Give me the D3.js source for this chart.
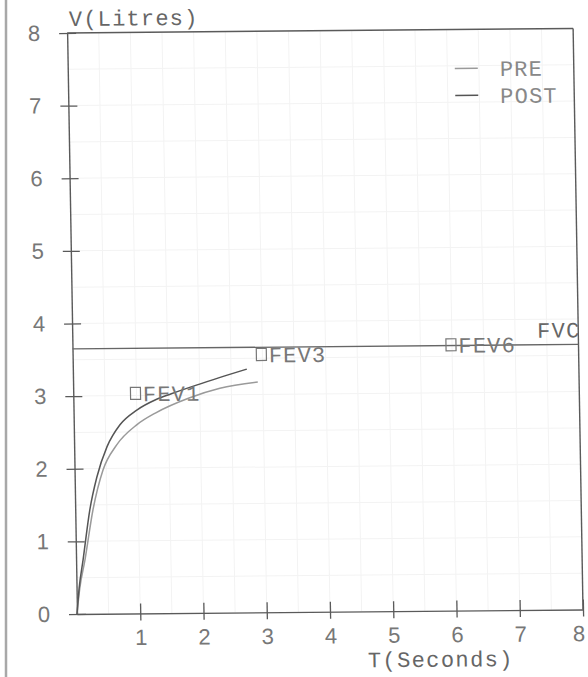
<!DOCTYPE html>
<html>
<head>
<meta charset="utf-8">
<script src="https://cdn.jsdelivr.net/npm/d3@7"></script>
<style>
  html, body { margin: 0; padding: 0; background: #fff; }
  svg { display: block; }
</style>
</head>
<body>
<svg id="chart" width="588" height="677"></svg>
<script>
// ---- data ----
const xTicks = [1, 2, 3, 4, 5, 6, 7, 8];
const yTicks = [0, 1, 2, 3, 4, 5, 6, 7, 8];
const gridSteps = [0.5, 1, 1.5, 2, 2.5, 3, 3.5, 4, 4.5, 5, 5.5, 6, 6.5, 7, 7.5];

const postT = [0, 0.04, 0.11, 0.23, 0.35, 0.52, 0.73, 1.0, 1.3, 1.55, 2.0, 2.4, 2.75];
const postV = [0, 0.35, 0.74, 1.43, 1.88, 2.30, 2.60, 2.80, 2.94, 3.02, 3.15, 3.26, 3.35];
const preT  = [0, 0.05, 0.14, 0.28, 0.45, 0.67, 1.0, 1.3, 1.83, 2.32, 2.92];
const preV  = [0, 0.35, 0.74, 1.43, 1.98, 2.32, 2.60, 2.76, 2.96, 3.09, 3.17];

const fvc = 3.65;
const markNames = ["FEV1", "FEV3", "FEV6"];
const markT = [1, 3, 6];
const markLabelV = [3.03, 3.55, 3.66];

const legendNames = ["PRE", "POST"];
const seriesColors = ["#9a9a9a", "#555555"];

// ---- scales ----
const x = d3.scaleLinear().domain([0, 8]).range([77, 583]);
const y = d3.scaleLinear().domain([0, 8]).range([614, 33]);

const svg = d3.select("#chart");

// scanned page edge line
svg.append("line").attr("x1", 6).attr("x2", 6).attr("y1", 0).attr("y2", 677)
  .attr("stroke", "#a8a8a8").attr("stroke-width", 2.5);

// slightly skewed plot, like the scan
const g = svg.append("g")
  .attr("transform", "matrix(1,-0.009,0.017,1,-10.44,0.69)");

// faint graph-paper grid
g.append("g").selectAll("line.vg").data(gridSteps).join("line")
  .attr("x1", d => x(d)).attr("x2", d => x(d)).attr("y1", y(8)).attr("y2", y(0))
  .attr("stroke", "#f3f3f3").attr("stroke-width", 1);
g.append("g").selectAll("line.hg").data(gridSteps).join("line")
  .attr("x1", x(0)).attr("x2", x(8)).attr("y1", d => y(d)).attr("y2", d => y(d))
  .attr("stroke", "#f3f3f3").attr("stroke-width", 1);

const axisColor = "#5a5a5a";
const tickFont = "'Liberation Sans', Arial, sans-serif";
const monoFont = "'Liberation Mono', 'Courier New', monospace";

// x axis
const xAxis = g.append("g").attr("transform", `translate(0,${y(0)})`)
  .call(d3.axisBottom(x).tickValues(xTicks).tickSize(7).tickSizeOuter(0).tickPadding(9));
xAxis.select(".domain").attr("stroke", axisColor).attr("stroke-width", 1.4);
xAxis.selectAll(".tick line").attr("y1", -10).attr("y2", 7)
  .attr("stroke", axisColor).attr("stroke-width", 1.3);
xAxis.selectAll(".tick text").attr("font-family", tickFont).attr("font-size", 22)
  .attr("fill", "#777")
  .attr("dx", d => d === 8 ? -5 : 0);

// y axis
const yAxis = g.append("g").attr("transform", `translate(${x(0)},0)`)
  .call(d3.axisLeft(y).tickValues(yTicks).tickSize(8).tickSizeOuter(0).tickPadding(19));
yAxis.select(".domain").attr("stroke", axisColor).attr("stroke-width", 1.4);
yAxis.selectAll(".tick line").attr("x1", 9).attr("x2", -8)
  .attr("stroke", axisColor).attr("stroke-width", 1.3);
yAxis.selectAll(".tick text").attr("font-family", tickFont).attr("font-size", 22)
  .attr("fill", "#777");

// top and right frame
g.append("line").attr("x1", x(0)).attr("x2", x(8)).attr("y1", y(8)).attr("y2", y(8))
  .attr("stroke", axisColor).attr("stroke-width", 1.4);
g.append("line").attr("x1", x(8)).attr("x2", x(8)).attr("y1", y(8)).attr("y2", y(0))
  .attr("stroke", axisColor).attr("stroke-width", 1.4);

// axis titles
g.append("text").attr("x", x(0) + 2).attr("y", y(8) - 7)
  .attr("font-family", monoFont).attr("font-size", 22).attr("letter-spacing", 1.2)
  .attr("fill", "#666").text("V(Litres)");
g.append("text").attr("x", x(8) - 70).attr("y", y(0) + 56)
  .attr("text-anchor", "end")
  .attr("font-family", monoFont).attr("font-size", 22).attr("letter-spacing", 1.4)
  .attr("fill", "#666").text("T(Seconds)");

// FVC line and label
g.append("line").attr("x1", x(0)).attr("x2", x(8)).attr("y1", y(fvc)).attr("y2", y(fvc))
  .attr("stroke", "#666").attr("stroke-width", 1.3);
g.append("text").attr("x", x(8) - 41).attr("y", y(fvc) - 7)
  .attr("font-family", monoFont).attr("font-size", 22).attr("letter-spacing", 1.2)
  .attr("fill", "#666").text("FVC");

// curves
const line = d3.line().x(d => x(d[0])).y(d => y(d[1])).curve(d3.curveMonotoneX);
const preData = preT.map((t, i) => [t, preV[i]]);
const postData = postT.map((t, i) => [t, postV[i]]);
g.append("path").attr("d", line(preData)).attr("fill", "none")
  .attr("stroke", seriesColors[0]).attr("stroke-width", 1.5);
g.append("path").attr("d", line(postData)).attr("fill", "none")
  .attr("stroke", seriesColors[1]).attr("stroke-width", 1.5);

// FEV markers
const marks = g.append("g").selectAll("g").data(markNames).join("g")
  .attr("transform", (d, i) => `translate(${x(markT[i]) - 8},${y(markLabelV[i])})`);
marks.append("rect").attr("x", 2).attr("y", -6).attr("width", 10).attr("height", 12)
  .attr("fill", "none").attr("stroke", "#777").attr("stroke-width", 1.2);
marks.append("text").attr("x", 14.4).attr("y", 0).attr("dy", "0.36em")
  .attr("font-family", monoFont).attr("font-size", 22).attr("letter-spacing", 1.2)
  .attr("fill", "#777").text(d => d);

// legend
const legend = g.append("g").selectAll("g").data(legendNames).join("g")
  .attr("transform", (d, i) => `translate(${x(8) - 119},${72 + i * 27})`);
legend.append("line").attr("x1", 0).attr("x2", 23).attr("y1", 0).attr("y2", 0)
  .attr("stroke", (d, i) => seriesColors[i]).attr("stroke-width", 1.5);
legend.append("text").attr("x", 45).attr("y", 0).attr("dy", "0.36em")
  .attr("font-family", monoFont).attr("font-size", 22).attr("letter-spacing", 1.2)
  .attr("fill", "#888").text(d => d);
</script>
</body>
</html>
